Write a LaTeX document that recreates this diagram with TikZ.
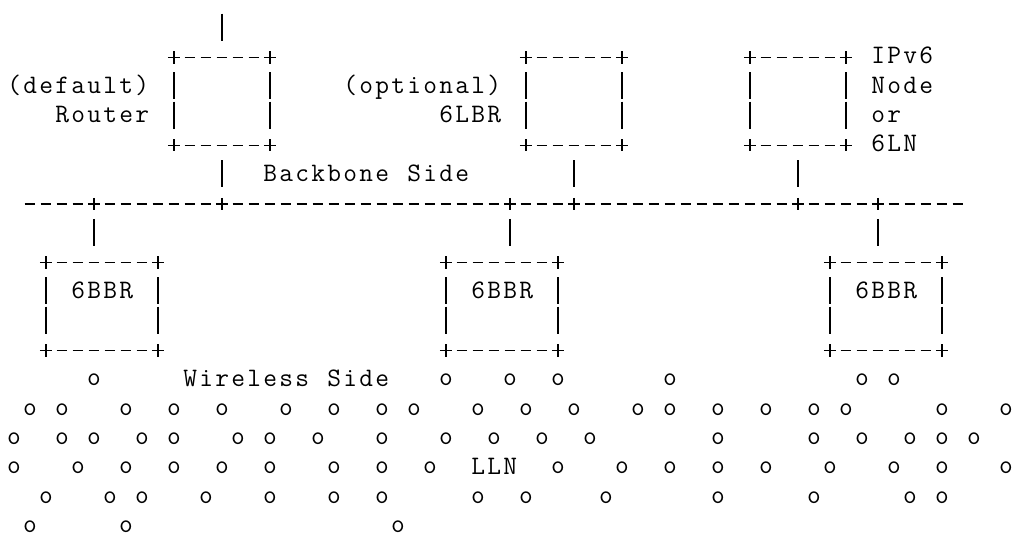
\documentclass[tikz,border=0pt]{standalone}
\usepackage{fontspec}

% typewriter grid: every character sits in a 12pt cell
\makeatletter
\newcommand\cells[1]{\@tfor\tchar:=#1\do{\makebox[12pt]{\tchar}}}
\makeatother

% line-art glyphs drawn on the character grid (column, row)
\newcommand\artdash[2]{\draw[art] ({colx(#1)-5.4},{rowy(#2)-0.5}) -- ({colx(#1)+5.4},{rowy(#2)-0.5});}
\newcommand\artplus[2]{\draw[art] ({colx(#1)-6.1},{rowy(#2)-0.5}) -- ({colx(#1)+6.1},{rowy(#2)-0.5})
                                 ({colx(#1)},{rowy(#2)-6.6}) -- ({colx(#1)},{rowy(#2)+5.6});}
\newcommand\artbar[2]{\draw[art] ({colx(#1)},{rowy(#2)-15}) -- ({colx(#1)},{rowy(#2)+12});}
% box from column #1 to #2, row #3 to #4
\newcommand\artbox[4]{%
  \foreach \cc in {#1,#2}{\foreach \rr in {#3,#4}{\artplus{\cc}{\rr}}}%
  \pgfmathtruncatemacro\boxca{#1+1}\pgfmathtruncatemacro\boxcb{#2-1}%
  \foreach \cc in {\boxca,...,\boxcb}{\artdash{\cc}{#3}\artdash{\cc}{#4}}%
  \pgfmathtruncatemacro\boxra{#3+1}\pgfmathtruncatemacro\boxrb{#4-1}%
  \foreach \rr in {\boxra,...,\boxrb}{\artbar{#1}{\rr}\artbar{#2}{\rr}}%
}
% text label starting at column #2 of row #3
\newcommand\lbl[4]{\node[tag] (#1) at ({colx(#2)-8},{rowy(#3)+6}) {\cells{#4}};}

\begin{document}
\begin{tikzpicture}[x=0.75pt, y=-0.75pt,
  declare function={colx(\p)=14+16*\p; rowy(\q)=28.7+29.3*\q;},
  art/.style={line width=0.95pt, black},
  tag/.style={font=\ttfamily\fontsize{20}{20}\selectfont, inner sep=0pt, anchor=base west},
  nodemark/.style={font=\ttfamily\fontsize{20}{20}\selectfont, inner sep=0pt, anchor=base}]

\fill[white] (0,0) rectangle (1012,534);
\useasboundingbox (0,0) rectangle (1012,534);

% uplink of the default router
\artbar{13}{0}

% backbone-side devices
\artbox{10}{16}{1}{4}
\artbox{32}{38}{1}{4}
\artbox{46}{52}{1}{4}
\foreach \c in {13,35,49}{\artbar{\c}{5}}

% backbone link
\foreach \a/\b in {1/4,6/12,14/30,32/34,36/48,50/53,55/59}{
  \foreach \c in {\a,...,\b}{\artdash{\c}{6}}}
\foreach \c in {5,13,31,35,49,54}{\artplus{\c}{6}}
\foreach \c in {5,31,54}{\artbar{\c}{7}}

% backbone routers
\artbox{2}{9}{8}{11}
\artbox{27}{34}{8}{11}
\artbox{51}{58}{8}{11}

% labels
\lbl{default}{0}{2}{(default)}
\lbl{router}{3}{3}{Router}
\lbl{optional}{21}{2}{(optional)}
\lbl{lbr}{27}{3}{6LBR}
\lbl{ipv6}{54}{1}{IPv6}
\lbl{hostnode}{54}{2}{Node}
\lbl{hostor}{54}{3}{or}
\lbl{sixln}{54}{4}{6LN}
\lbl{backbone}{16}{5}{Backbone~Side}
\lbl{bbrA}{4}{9}{6BBR}
\lbl{bbrB}{29}{9}{6BBR}
\lbl{bbrC}{53}{9}{6BBR}
\lbl{wireless}{11}{12}{Wireless~Side}
\lbl{lln}{29}{15}{LLN}

% wireless nodes of the LLN
\foreach \r/\cs in {
  12/{5,27,31,34,41,53,55},
  13/{1,3,7,10,13,17,20,23,25,29,32,35,39,41,44,47,50,52,58,62},
  14/{0,3,5,8,10,14,16,19,23,27,30,33,36,44,50,53,56,58,60},
  15/{0,4,7,10,13,16,20,23,26,34,38,41,44,47,51,55,58,62},
  16/{2,6,8,12,16,20,23,29,32,37,44,50,56,58},
  17/{1,7,24}}{
  \foreach \c in \cs{
    \node[nodemark] (o-\r-\c) at ({colx(\c)},{rowy(\r)+5.6}) {o};}}
\end{tikzpicture}
\end{document}
